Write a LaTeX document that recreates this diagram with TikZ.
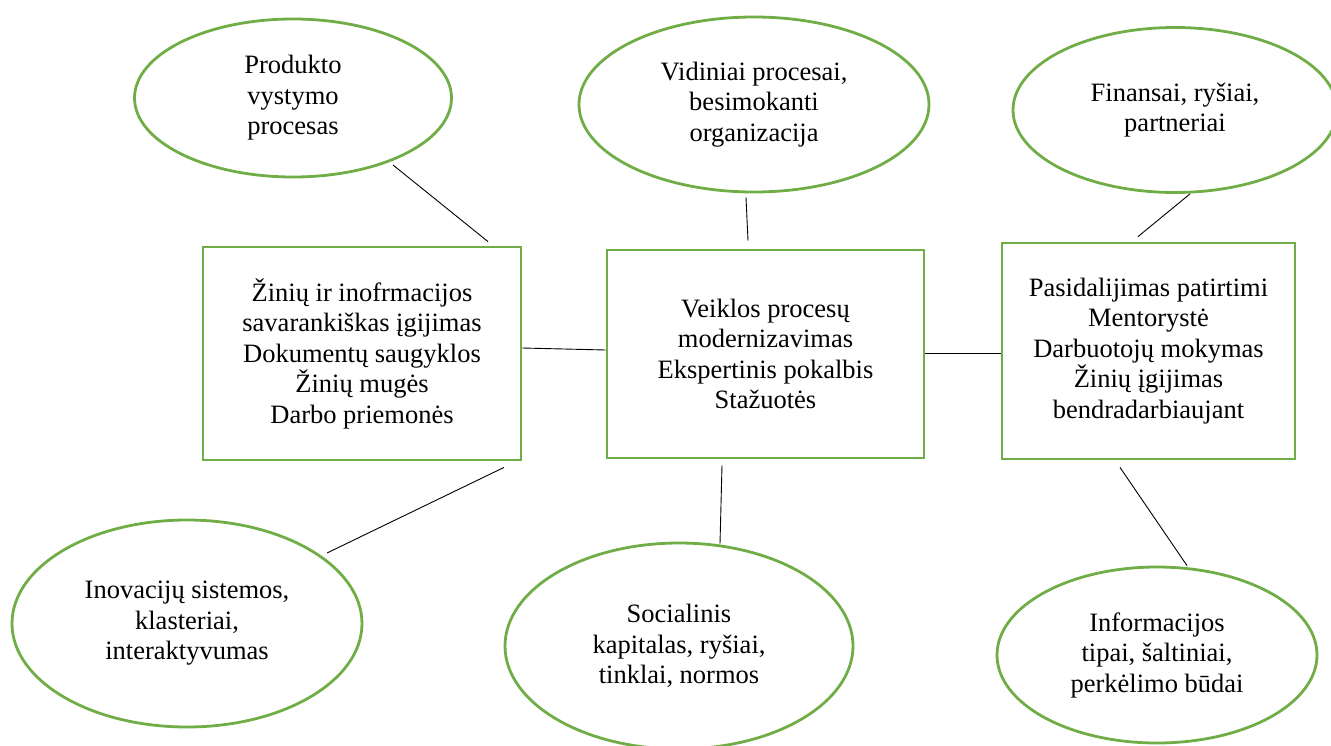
\documentclass[tikz,border=0pt]{standalone}
\usepackage{fontspec}
\setmainfont{Liberation Serif}
\usetikzlibrary{shapes.geometric,calc}
\definecolor{frame}{HTML}{70AD47}
\begin{document}
\begin{tikzpicture}[x=1pt,y=-1pt,
  every node/.style={font=\fontsize{26.5}{30.5}\selectfont, align=center, inner sep=0pt},
  bubble/.style={ellipse, draw=frame, line width=2.8pt},
  card/.style={rectangle, draw=frame, line width=2.8pt},
  link/.style={draw=black, line width=0.9pt}]
\useasboundingbox (0,0) rectangle (1331,745);
% ellipses
\node[bubble, minimum width=317pt, minimum height=158pt] (e1) at (293,98) {Produkto\\vystymo\\procesas};
\node[bubble, minimum width=350pt, minimum height=175pt] (e2) at (754,104.5) {Vidiniai procesai,\\besimokanti\\organizacija};
\node[bubble, minimum width=324pt, minimum height=165pt] (e3) at (1175,110) {Finansai, ryšiai,\\partneriai};
\node[bubble, minimum width=350pt, minimum height=207pt] (e4) at (187,623.5) {Inovacijų sistemos,\\klasteriai,\\interaktyvumas};
\node[bubble, minimum width=348pt, minimum height=206pt] (e5) at (679,646) {Socialinis\\kapitalas, ryšiai,\\tinklai, normos};
\node[bubble, minimum width=320pt, minimum height=176pt] (e6) at (1157,655) {Informacijos\\tipai, šaltiniai,\\perkėlimo būdai};
% boxes
\node[card, minimum width=318pt, minimum height=213pt] (b1) at (362,353.5) {Žinių ir inofrmacijos\\savarankiškas įgijimas\\Dokumentų saugyklos\\Žinių mugės\\Darbo priemonės};
\node[card, minimum width=317pt, minimum height=208pt] (b2) at (765.5,354) {Veiklos procesų\\modernizavimas\\Ekspertinis pokalbis\\Stažuotės};
\node[card, minimum width=293pt, minimum height=216pt] (b3) at (1148.5,351) {Pasidalijimas patirtimi\\Mentorystė\\Darbuotojų mokymas\\Žinių įgijimas\\bendradarbiaujant};
% connectors
\draw[link] ($(e1.center)+(100,67)$) -- ($(b1.north)+(126,-4)$);
\draw[link] ($(e2.south)+(-8,4)$) -- ($(b2.north)+(-17.5,-8)$);
\draw[link] ($(e3.south)+(15,0)$) -- ($(b3.north)+(-10.5,-5)$);
\draw[link] ($(b1.east)+(0,-5.5)$) -- ($(b2.west)+(0,-4)$);
\draw[link] ($(b2.east)+(0,-1)$) -- ($(b3.west)+(0,2)$);
\draw[link] ($(b1.south)+(142,6)$) -- ($(e4.center)+(140,-70.5)$);
\draw[link] ($(b2.south)+(-43.5,6)$) -- ($(e5.north)+(41,2)$);
\draw[link] ($(b3.south)+(-28.5,7)$) -- ($(e6.north)+(30,0)$);
\end{tikzpicture}
\end{document}
